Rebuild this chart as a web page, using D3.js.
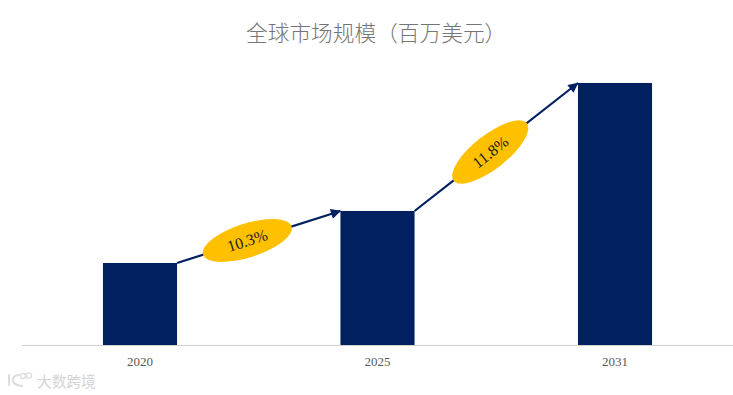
<!DOCTYPE html>
<html><head><meta charset="utf-8">
<script src="https://cdn.jsdelivr.net/npm/d3@7/dist/d3.min.js"></script>
<style>html,body{margin:0;padding:0;background:#fff;overflow:hidden}svg{display:block}</style>
</head><body><svg id="c" width="733" height="395"></svg>
<script>
const titleText = "全球市场规模（百万美元）";
const years = ["2020","2025","2031"];
const values = [82, 134, 262];
const growthLabels = ["10.3%","11.8%"];
const watermark = "大数跨境";

const svg = d3.select("#c");
const x = d3.scaleBand().domain(years).range([21.25,733.75]).paddingInner(0.688).paddingOuter(0.344);
const y = d3.scaleLinear().domain([0,262]).range([345,83]);
const navy = "#00205f";

svg.append("defs").append("marker").attr("id","ah").attr("viewBox","0 0 10 10")
  .attr("refX",9.5).attr("refY",5).attr("markerWidth",11).attr("markerHeight",10)
  .attr("markerUnits","userSpaceOnUse").attr("orient","auto")
  .append("path").attr("d","M0,0L10,5L0,10Z").attr("fill",navy);

svg.append("text").attr("x",246).attr("y",41).attr("text-anchor","start")
  .attr("font-family","'Noto Sans CJK SC'").attr("font-weight",300).attr("font-size",21.7)
  .attr("fill","#757575").text(titleText);

svg.selectAll("rect.bar").data(years).join("rect").attr("class","bar")
  .attr("x",d=>x(d)).attr("width",x.bandwidth())
  .attr("y",(d,i)=>y(values[i])).attr("height",(d,i)=>y(0)-y(values[i]))
  .attr("fill",navy);

const axis = d3.axisBottom(x).tickSize(0).tickPadding(12);
const gx = svg.append("g").attr("transform",`translate(0,${y(0)})`).call(axis);
gx.select(".domain").attr("stroke","#d0d0d0").attr("stroke-width",1);
gx.selectAll("text").attr("font-family","'Liberation Serif'").attr("font-size",13).attr("fill","#595959");

const badgeShift = [[-11.5,3.5],[-6,5]];
const links = growthLabels.map((t,i)=>{
  const x0 = x(years[i])+x.bandwidth(), y0 = y(values[i]);
  const x1 = x(years[i+1]), y1 = y(values[i+1]);
  return {t,x0,y0,x1,y1,i,ang:Math.atan2(y1-y0,x1-x0)*180/Math.PI};
});
svg.selectAll("line.link").data(links).join("line").attr("class","link")
  .attr("x1",d=>d.x0).attr("y1",d=>d.y0).attr("x2",d=>d.x1).attr("y2",d=>d.y1)
  .attr("stroke",navy).attr("stroke-width",2.2).attr("marker-end","url(#ah)");
const g = svg.selectAll("g.badge").data(links).join("g").attr("class","badge")
  .attr("transform",d=>`translate(${(d.x0+d.x1)/2+badgeShift[d.i][0]},${(d.y0+d.y1)/2+badgeShift[d.i][1]}) rotate(${d.ang})`);
g.append("ellipse").attr("rx",46.5).attr("ry",17).attr("fill","#ffc000");
g.append("text").attr("text-anchor","middle").attr("dy","0.35em")
  .attr("font-family","'Liberation Serif'").attr("font-size",16).attr("fill","#1a1a1a").text(d=>d.t);

const wm = svg.append("g").attr("fill","none").attr("stroke","#dcdcdc").attr("stroke-width",2).attr("stroke-linecap","round");
wm.append("path").attr("d","M9,375v10");
wm.append("path").attr("d","M19,375q-7,1 -6,5q0,5 9,6");
wm.append("circle").attr("cx",23).attr("cy",376).attr("r",2.6).attr("stroke-width",1.3);
wm.append("circle").attr("cx",29).attr("cy",375.5).attr("r",2.6).attr("stroke-width",1.3);
svg.append("text").attr("x",37).attr("y",387).attr("font-family","'Noto Sans CJK SC'")
  .attr("font-size",14.7).attr("fill","#d4d4d4").text(watermark);
</script></body></html>
